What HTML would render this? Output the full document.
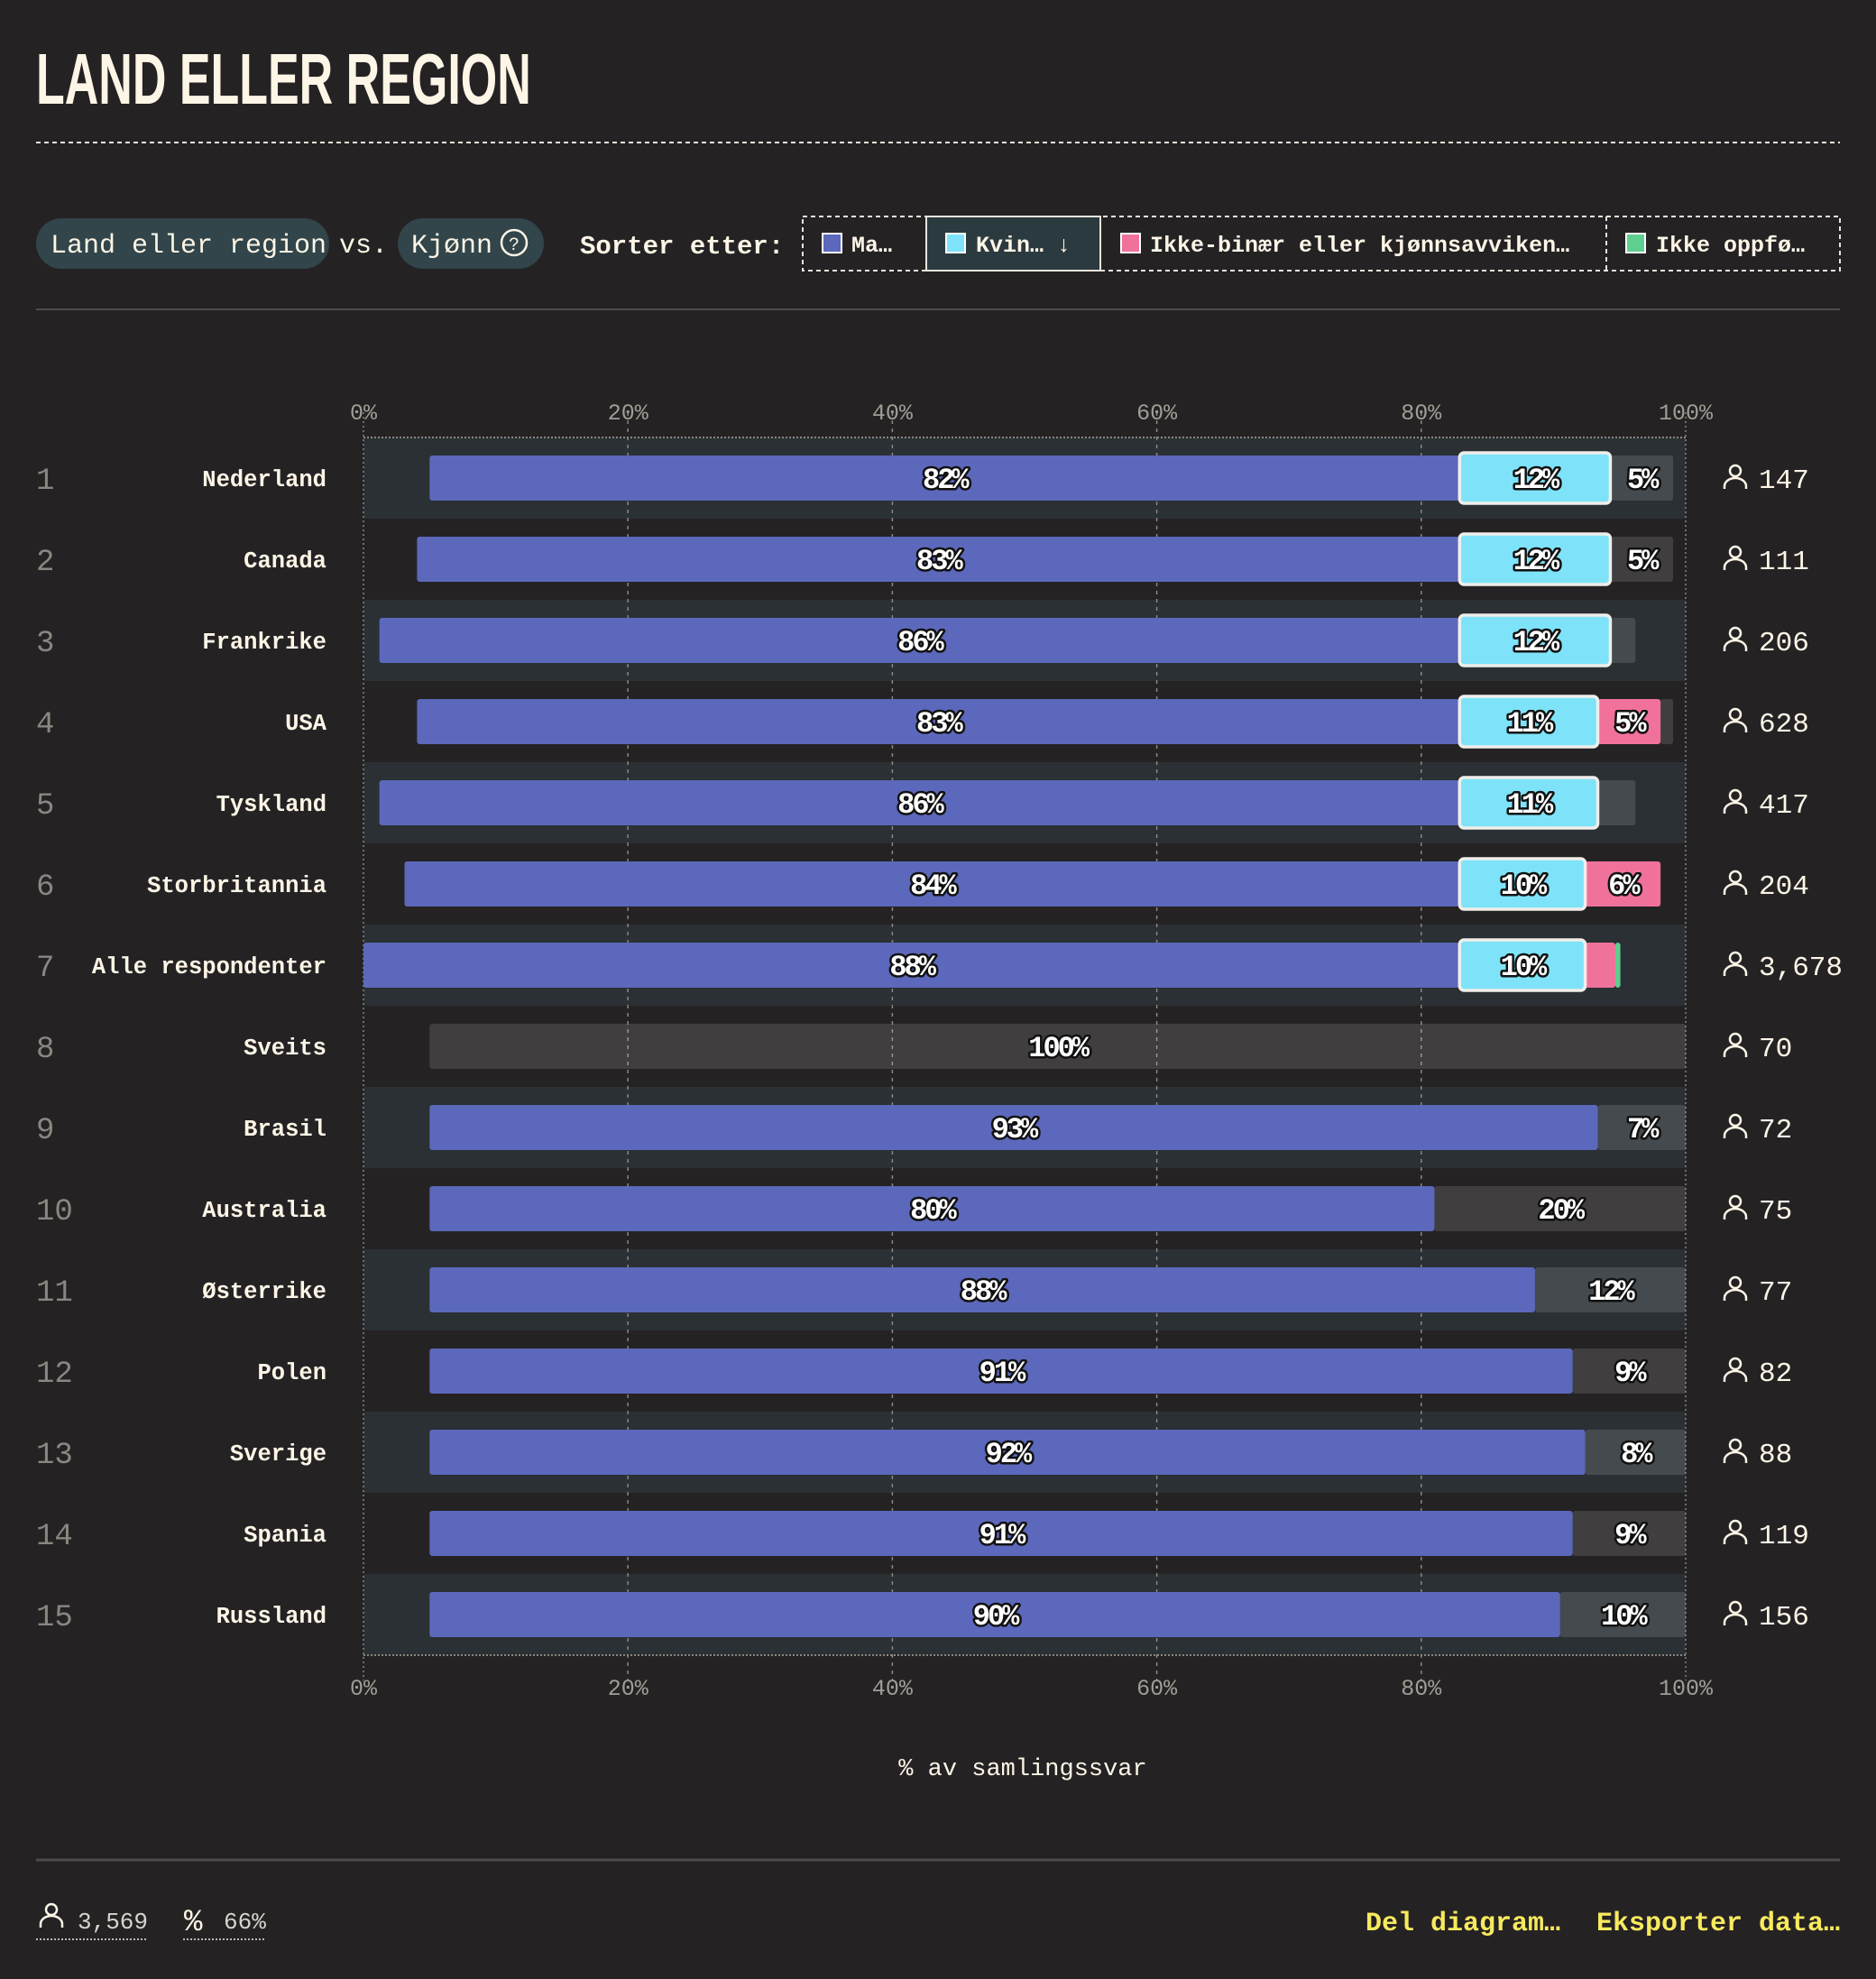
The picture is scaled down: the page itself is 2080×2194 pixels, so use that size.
<!DOCTYPE html>
<html><head><meta charset="utf-8">
<style>
html,body{margin:0;padding:0;background:#252224;}
body{width:2080px;height:2194px;overflow:hidden;}
svg{display:block}
.mono{font-family:"Liberation Mono",monospace;}
</style></head>
<body>
<svg id="chart" width="2080" height="2194" viewBox="0 0 2080 2194" xmlns="http://www.w3.org/2000/svg">
  <rect x="0" y="0" width="2080" height="2194" fill="#252224"/>
  <text x="40" y="115" font-family="'Liberation Sans Narrow','Liberation Sans',sans-serif" font-weight="bold" font-size="80" fill="#fdf5e6" transform="translate(40 0) scale(0.65 1) translate(-40 0)">LAND ELLER REGION</text>
  <line x1="40" y1="158" x2="2040" y2="158" stroke="#e8e4dc" stroke-width="2" stroke-dasharray="5 4"/>

  <g>
    <rect x="40" y="242" width="325" height="56" rx="28" fill="#31454a"/>
    <text x="56" y="280" class="mono" font-size="30" fill="#fdf5e6">Land eller region</text>
    <text x="376" y="280" class="mono" font-size="30" fill="#fdf5e6">vs.</text>
    <rect x="441" y="242" width="162" height="56" rx="28" fill="#31454a"/>
    <text x="456" y="280" class="mono" font-size="30" fill="#fdf5e6">Kjønn</text>
    <circle cx="570" cy="269" r="14" fill="none" stroke="#fdf5e6" stroke-width="2.5"/>
    <text x="570" y="277" text-anchor="middle" class="mono" font-size="20" fill="#fdf5e6">?</text>
    <text x="643" y="281" class="mono" font-size="29" font-weight="bold" fill="#fdf5e6">Sorter etter:</text>

    <rect x="890" y="240" width="1150" height="60" fill="none" stroke="#e8e4dc" stroke-width="2" stroke-dasharray="5 4"/>
    <line x1="1781" y1="240" x2="1781" y2="300" stroke="#e8e4dc" stroke-width="2" stroke-dasharray="5 4"/>
    <rect x="1027" y="240" width="193" height="60" fill="#2b3a3f" stroke="#e8e4dc" stroke-width="2"/>
    <g>
      <rect x="912" y="259" width="21" height="21" fill="#5c68bb" stroke="#fff" stroke-width="2"/>
      <text x="944" y="279" class="mono" font-size="25" font-weight="bold" fill="#fdf5e6">Ma…</text>
    </g>
    <rect x="1049" y="259" width="21" height="21" fill="#7ee3f8" stroke="#fff" stroke-width="2"/>
    <text x="1082" y="279" class="mono" font-size="25" font-weight="bold" fill="#fdf5e6">Kvin… ↓</text>
    <g>
      <rect x="1243" y="259" width="21" height="21" fill="#f0729a" stroke="#fff" stroke-width="2"/>
      <text x="1275" y="279" class="mono" font-size="25" font-weight="bold" fill="#fdf5e6">Ikke-binær eller kjønnsavviken…</text>
    </g>
    <g>
      <rect x="1803" y="259" width="21" height="21" fill="#5fcf8f" stroke="#fff" stroke-width="2"/>
      <text x="1836" y="279" class="mono" font-size="25" font-weight="bold" fill="#fdf5e6">Ikke oppfø…</text>
    </g>
  </g>
  <line x1="40" y1="343" x2="2040" y2="343" stroke="#4e4b4d" stroke-width="2"/>

  <g id="plot"></g>

  <text x="1134" y="1968" text-anchor="middle" class="mono" font-size="27" fill="#fdf5e6">% av samlingssvar</text>
  <line x1="40" y1="2062" x2="2040" y2="2062" stroke="#4e4b4d" stroke-width="3"/>

  <g>
    <circle cx="57" cy="2117" r="6" fill="none" stroke="#fdf5e6" stroke-width="2.5"/>
    <path d="M45 2137 v-4 a12 9 0 0 1 24 0 v4" fill="none" stroke="#fdf5e6" stroke-width="2.5"/>
    <text x="86" y="2138" class="mono" font-size="26" fill="#d8d3cb">3,569</text>
    <line x1="40" y1="2150" x2="163" y2="2150" stroke="#bdb8b0" stroke-width="2" stroke-dasharray="2 2"/>
  </g>
  <g>
    <text x="204" y="2140" class="mono" font-size="34" fill="#fdf5e6">%</text>
    <text x="248" y="2138" class="mono" font-size="26" fill="#d8d3cb">66%</text>
    <line x1="203" y1="2150" x2="295" y2="2150" stroke="#bdb8b0" stroke-width="2" stroke-dasharray="2 2"/>
  </g>
  <text x="1514" y="2140" class="mono" font-size="30" font-weight="bold" fill="#f7ea5e">Del diagram…</text>
  <text x="2040" y="2140" text-anchor="end" class="mono" font-size="30" font-weight="bold" fill="#f7ea5e">Eksporter data…</text>
</svg>
<script>
const countries = ["Nederland","Canada","Frankrike","USA","Tyskland","Storbritannia","Alle respondenter","Sveits","Brasil","Australia","Østerrike","Polen","Sverige","Spania","Russland"];
const mann = [82,83,86,83,86,84,88,0,93,80,88,91,92,91,90];
const kvinne = [12,12,12,11,11,10,10,0,0,0,0,0,0,0,0];
const ikkeBinaer = [0,0,0,5,0,6,2.4,0,0,0,0,0,0,0,0];
const ikkeOppfort = [0,0,0,0,0,0,0.4,0,0,0,0,0,0,0,0];
const annet = [5,5,2,1,3,0,0,100,7,20,12,9,8,9,10];
const respondents = ["147","111","206","628","417","204","3,678","70","72","75","77","82","88","119","156"];
const tickValues = [0,20,40,60,80,100];
const tickLabels = ["0%","20%","40%","60%","80%","100%"];

const NS = "http://www.w3.org/2000/svg";
const plot = document.getElementById('plot');
const X0 = 403, X1 = 1869, TOP = 485, ROW = 90, BAR = 50;
const axisX = v => X0 + (X1 - X0) * v / 100;
const unit = (X1 - X0) * 0.95 / 100;
const anchorX = axisX(82.9);
const rowY = i => TOP + i * ROW;
function mk(tag, attrs, parent){ const e=document.createElementNS(NS,tag); for(const k in attrs) e.setAttribute(k,attrs[k]); (parent||plot).appendChild(e); return e; }

const n = countries.length;
for(let i=0;i<n;i++){
  if(i%2===0){
    const b = mk('rect',{x:X0,y:rowY(i),width:X1-X0,height:ROW,fill:'#2a3034'});
    
    
  }
}
tickValues.forEach((v,k)=>{
  const x = axisX(v);
  const g = mk('line',{x1:x,y1:TOP-28,x2:x,y2:TOP+n*ROW+28,stroke:'#8a8680','stroke-width':1.5,'stroke-dasharray':(v===0||v===100)?'2 3':'4 5'});
  
  
  const t1 = mk('text',{x:x,y:465,'text-anchor':'middle','font-family':'Liberation Mono, monospace','font-size':25,fill:'#a19c94'});
  t1.textContent = tickLabels[k];
  
  
  const t2 = mk('text',{x:x,y:1879,'text-anchor':'middle','font-family':'Liberation Mono, monospace','font-size':25,fill:'#a19c94'});
  t2.textContent = tickLabels[k];
  
  
});
[TOP, TOP+n*ROW].forEach(y=>{
  const l = mk('line',{x1:X0,y1:y,x2:X1,y2:y,stroke:'#8a8680','stroke-width':2,'stroke-dasharray':'2 2'});
  
  
});

function label(x,cy,txt){
  const t = mk('text',{x:x,y:cy+11,'text-anchor':'middle','font-family':'Liberation Mono, monospace','font-weight':'bold','font-size':32,'letter-spacing':'-3',fill:'#ffffff',stroke:'#111','stroke-width':5,'paint-order':'stroke','stroke-linejoin':'round'});
  t.textContent = txt;
  
  
}

for(let i=0;i<n;i++){
  const cy = rowY(i) + ROW/2;
  const y = cy - BAR/2;
  const num = mk('text',{x:40,y:cy+12,'font-family':'Liberation Mono, monospace','font-size':34,fill:'#8a8680'});
  num.textContent = String(i+1);
  
  
  const nm = mk('text',{x:362,y:cy+9,'text-anchor':'end','font-family':'Liberation Mono, monospace','font-weight':'bold','font-size':25.5,fill:'#fdf5e6'});
  nm.textContent = countries[i];
  
  

  let x = kvinne[i] > 0 ? anchorX - mann[i]*unit : axisX(5);
  const segs = [
    {v:mann[i], fill:'#5c68bb', name:'bar-mann'},
    {v:kvinne[i], fill:'#7ee3f8', name:'bar-kvinne'},
    {v:ikkeBinaer[i], fill:'#f0729a', name:'bar-ikke-binaer'},
    {v:ikkeOppfort[i], fill:'#5fcf8f', name:'bar-ikke-oppfort'},
    {v:annet[i], fill:'rgba(255,255,255,0.13)', name:'bar-annet'}
  ];
  const kvSeg = [];
  segs.forEach(s=>{
    if(s.v<=0) return;
    let x0 = Math.max(x, X0), w = x + s.v*unit - x0;
    if(s.name==='bar-kvinne'){ kvSeg.push({x:x0,w:w,v:s.v}); }
    else {
      const r = mk('rect',{x:x0,y:y,width:w,height:BAR,rx:3,fill:s.fill});
      
      
      if(s.v>=4) label(x0+w/2,cy,Math.round(s.v)+'%');
    }
    x += s.v*unit;
  });
  kvSeg.forEach(k=>{
    const r = mk('rect',{x:k.x,y:y-3,width:k.w,height:BAR+6,rx:5,fill:'#7ee3f8',stroke:'#f0eeea','stroke-width':3.5});
    
    
    label(k.x+k.w/2,cy,Math.round(k.v)+'%');
  });

  const hd = mk('circle',{cx:1924,cy:cy-8,r:6,fill:'none',stroke:'#fdf5e6','stroke-width':2.5});
  
  
  const bd = mk('path',{d:`M1912 ${cy+12} v-3 a12 9 0 0 1 24 0 v3`,fill:'none',stroke:'#fdf5e6','stroke-width':2.5});
  
  
  const ct = mk('text',{x:1950,y:cy+11,'font-family':'Liberation Mono, monospace','font-size':31,fill:'#fdf5e6'});
  ct.textContent = respondents[i];
  
  
}
</script>
</body></html>
